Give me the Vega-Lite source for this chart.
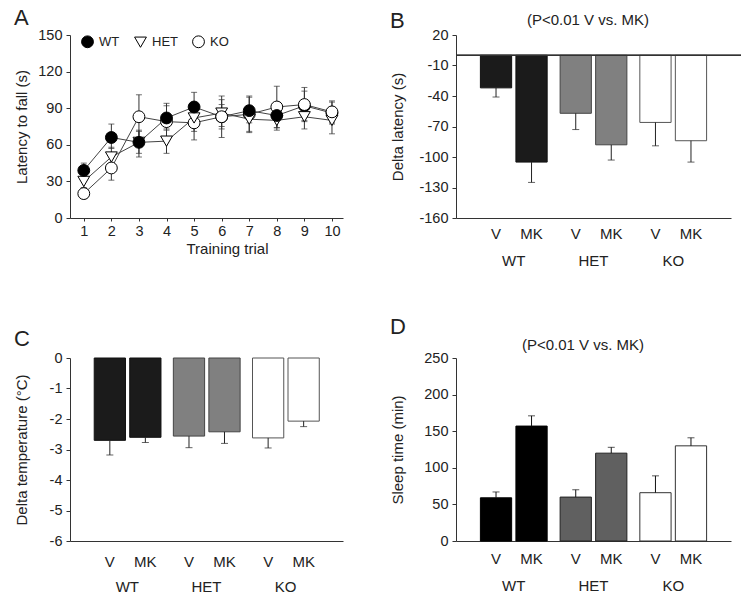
{
  "$schema": "https://vega.github.io/schema/vega-lite/v6.json",
  "background": "white",
  "padding": {"left": 13, "top": 7, "right": 5, "bottom": 5},
  "config": {
    "font": "Liberation Sans",
    "view": {"stroke": null},
    "title": {"font": "Liberation Sans", "fontSize": 22, "fontWeight": "normal", "color": "#222", "anchor": "start", "frame": "bounds", "baseline": "alphabetic"},
    "axis": {
      "labelFont": "Liberation Sans", "labelFontSize": 14.5, "labelColor": "#222",
      "titleFont": "Liberation Sans", "titleFontSize": 15, "titleFontWeight": "normal", "titleColor": "#222",
      "domainColor": "#333", "tickColor": "#333", "grid": false, "tickSize": 4, "labelPadding": 4, "labelOverlap": false
    },
    "legend": {"labelFont": "Liberation Sans"}
  },
  "datasets": {
    "latency": [
      {"trial": 1, "geno": "KO", "mean": 20, "lo": 16, "hi": 24},
      {"trial": 1, "geno": "HET", "mean": 30, "lo": 25, "hi": 35},
      {"trial": 1, "geno": "WT", "mean": 39, "lo": 34, "hi": 45},
      {"trial": 2, "geno": "KO", "mean": 41, "lo": 31, "hi": 51},
      {"trial": 2, "geno": "HET", "mean": 50, "lo": 42, "hi": 58},
      {"trial": 2, "geno": "WT", "mean": 66, "lo": 57, "hi": 77},
      {"trial": 3, "geno": "HET", "mean": 62, "lo": 53, "hi": 71},
      {"trial": 3, "geno": "KO", "mean": 83, "lo": 64, "hi": 101},
      {"trial": 3, "geno": "WT", "mean": 62, "lo": 50, "hi": 72},
      {"trial": 4, "geno": "HET", "mean": 63, "lo": 53, "hi": 73},
      {"trial": 4, "geno": "KO", "mean": 79, "lo": 66, "hi": 92},
      {"trial": 4, "geno": "WT", "mean": 82, "lo": 72, "hi": 94},
      {"trial": 5, "geno": "KO", "mean": 78, "lo": 64, "hi": 92},
      {"trial": 5, "geno": "HET", "mean": 82, "lo": 71, "hi": 93},
      {"trial": 5, "geno": "WT", "mean": 91, "lo": 80, "hi": 103},
      {"trial": 6, "geno": "WT", "mean": 83, "lo": 73, "hi": 93},
      {"trial": 6, "geno": "HET", "mean": 86, "lo": 75, "hi": 97},
      {"trial": 6, "geno": "KO", "mean": 83, "lo": 66, "hi": 100},
      {"trial": 7, "geno": "KO", "mean": 85, "lo": 71, "hi": 99},
      {"trial": 7, "geno": "HET", "mean": 81, "lo": 70, "hi": 92},
      {"trial": 7, "geno": "WT", "mean": 88, "lo": 78, "hi": 100},
      {"trial": 8, "geno": "HET", "mean": 80, "lo": 72, "hi": 88},
      {"trial": 8, "geno": "KO", "mean": 91, "lo": 74, "hi": 108},
      {"trial": 8, "geno": "WT", "mean": 84, "lo": 74, "hi": 94},
      {"trial": 9, "geno": "WT", "mean": 92, "lo": 80, "hi": 104},
      {"trial": 9, "geno": "HET", "mean": 83, "lo": 73, "hi": 93},
      {"trial": 9, "geno": "KO", "mean": 93, "lo": 79, "hi": 107},
      {"trial": 10, "geno": "WT", "mean": 86, "lo": 77, "hi": 95},
      {"trial": 10, "geno": "HET", "mean": 80, "lo": 69, "hi": 91},
      {"trial": 10, "geno": "KO", "mean": 87, "lo": 78, "hi": 96}
    ],
    "dlat": [
      {"geno": "WT", "trt": "V", "mean": -32, "err": -41},
      {"geno": "WT", "trt": "MK", "mean": -105, "err": -125},
      {"geno": "HET", "trt": "V", "mean": -57, "err": -73},
      {"geno": "HET", "trt": "MK", "mean": -88, "err": -103},
      {"geno": "KO", "trt": "V", "mean": -66, "err": -89},
      {"geno": "KO", "trt": "MK", "mean": -84, "err": -105}
    ],
    "dtemp": [
      {"geno": "WT", "trt": "V", "mean": -2.70, "err": -3.18},
      {"geno": "WT", "trt": "MK", "mean": -2.60, "err": -2.77},
      {"geno": "HET", "trt": "V", "mean": -2.56, "err": -2.94},
      {"geno": "HET", "trt": "MK", "mean": -2.42, "err": -2.80},
      {"geno": "KO", "trt": "V", "mean": -2.62, "err": -2.95},
      {"geno": "KO", "trt": "MK", "mean": -2.07, "err": -2.25}
    ],
    "sleep": [
      {"geno": "WT", "trt": "V", "mean": 59, "err": 67},
      {"geno": "WT", "trt": "MK", "mean": 157, "err": 171},
      {"geno": "HET", "trt": "V", "mean": 60, "err": 70},
      {"geno": "HET", "trt": "MK", "mean": 120, "err": 128},
      {"geno": "KO", "trt": "V", "mean": 66, "err": 89},
      {"geno": "KO", "trt": "MK", "mean": 130, "err": 141}
    ]
  },
  "columns": 2,
  "bounds": "flush",
  "spacing": {"row": 140, "column": 113},
  "concat": [
    {
      "width": 273, "height": 183,
      "title": {"text": "A", "offset": -3},
      "data": {"name": "latency"},
      "encoding": {
        "x": {"field": "trial", "type": "quantitative",
              "scale": {"domain": [0.5, 10.4], "nice": false, "zero": false},
              "axis": {"values": [1,2,3,4,5,6,7,8,9,10], "tickCount": 10, "format": "d", "title": "Training trial", "tickSize": 3, "labelPadding": 3, "titleX": 157}}
      },
      "layer": [
        {"mark": {"type": "errorbar", "ticks": {"size": 6, "color": "#333"}, "color": "#333", "thickness": 1},
         "encoding": {
           "y": {"field": "lo", "type": "quantitative", "title": "Latency to fall (s)",
                 "scale": {"domain": [0, 150], "nice": false},
                 "axis": {"values": [0,30,60,90,120,150], "tickCount": 6, "title": "Latency to fall (s)", "titleX": -41}},
           "y2": {"field": "hi"}}},
        {"mark": {"type": "line", "color": "#444", "strokeWidth": 1},
         "encoding": {"y": {"field": "mean", "type": "quantitative", "title": "Latency to fall (s)",
                            "axis": {"values": [0,30,60,90,120,150], "tickCount": 6, "title": "Latency to fall (s)", "titleX": -41}},
                      "detail": {"field": "geno"}}},
        {"mark": {"type": "point", "filled": true, "size": 140, "strokeWidth": 1, "opacity": 1},
         "encoding": {
           "y": {"field": "mean", "type": "quantitative", "title": "Latency to fall (s)",
                 "axis": {"values": [0,30,60,90,120,150], "tickCount": 6, "title": "Latency to fall (s)", "titleX": -41}},
           "shape": {"field": "geno", "type": "nominal",
                     "scale": {"domain": ["WT", "HET", "KO"], "range": ["circle", "triangle-down", "circle"]},
                     "legend": {"orient": "none", "legendX": 11, "legendY": 0, "direction": "horizontal", "title": null,
                                "labelFontSize": 13, "labelColor": "#222", "symbolSize": 140, "symbolStrokeWidth": 1,
                                "columnPadding": 12, "labelOffset": 5, "padding": 0}},
           "fill": {"field": "geno", "type": "nominal",
                    "scale": {"domain": ["WT", "HET", "KO"], "range": ["#000000", "#ffffff", "#ffffff"]},
                    "legend": {"orient": "none", "legendX": 11, "legendY": 0, "direction": "horizontal", "title": null,
                                "labelFontSize": 13, "labelColor": "#222", "symbolSize": 140, "symbolStrokeWidth": 1,
                                "columnPadding": 12, "labelOffset": 5, "padding": 0}},
           "stroke": {"field": "geno", "type": "nominal",
                    "scale": {"domain": ["WT", "HET", "KO"], "range": ["#000000", "#000000", "#000000"]},
                    "legend": {"orient": "none", "legendX": 11, "legendY": 0, "direction": "horizontal", "title": null,
                                "labelFontSize": 13, "labelColor": "#222", "symbolSize": 140, "symbolStrokeWidth": 1,
                                "columnPadding": 12, "labelOffset": 5, "padding": 0}}
         }}
      ]
    },
    {
      "width": 275, "height": 183,
      "title": {"text": "B", "offset": -21},
      "data": {"name": "dlat"},
      "encoding": {
        "xOffset": {"field": "trt", "type": "nominal", "sort": ["V", "MK"], "scale": {"paddingInner": 0.12, "paddingOuter": 0}}
      },
      "layer": [
        {"mark": {"type": "bar", "strokeWidth": 1},
         "encoding": {
           "x": {"field": "geno", "type": "nominal", "sort": ["WT", "HET", "KO"],
                 "scale": {"paddingInner": 0.1625, "paddingOuter": 0.306},
                 "axis": {"title": null, "ticks": false, "tickSize": 0, "labelPadding": 35, "labelAngle": 0, "labelFontSize": 15}},
           "y": {"field": "mean", "type": "quantitative", "title": "Delta latency (s)", "scale": {"domain": [-160, 20], "nice": false, "zero": false},
                 "axis": {"values": [-160,-130,-100,-70,-40,-10,20], "tickCount": 7, "title": "Delta latency (s)", "titleX": -51, "labelExpr": "toString(datum.value)"}},
           "fill": {"condition": [{"test": "datum.geno === 'WT'", "value": "#1b1b1b"}, {"test": "datum.geno === 'HET'", "value": "#808080"}], "value": "#ffffff"},
           "stroke": {"condition": [{"test": "datum.geno === 'WT'", "value": "#111111"}, {"test": "datum.geno === 'HET'", "value": "#444444"}], "value": "#555555"}
         }},
        {"mark": {"type": "rule", "color": "#222", "strokeWidth": 1},
         "encoding": {
           "x": {"field": "geno", "type": "nominal", "sort": ["WT", "HET", "KO"], "axis": null},
           "y": {"field": "mean", "type": "quantitative", "title": "Delta latency (s)",
                 "axis": {"values": [-160,-130,-100,-70,-40,-10,20], "tickCount": 7, "title": "Delta latency (s)", "titleX": -51, "labelExpr": "toString(datum.value)"}},
           "y2": {"field": "err"}}},
        {"mark": {"type": "tick", "color": "#222", "size": 7, "thickness": 1},
         "encoding": {
           "x": {"field": "geno", "type": "nominal", "sort": ["WT", "HET", "KO"], "axis": null},
           "y": {"field": "err", "type": "quantitative", "title": "Delta latency (s)",
                 "axis": {"values": [-160,-130,-100,-70,-40,-10,20], "tickCount": 7, "title": "Delta latency (s)", "titleX": -51, "labelExpr": "toString(datum.value)"}}}},
        {"mark": {"type": "rule", "color": "#333", "strokeWidth": 1},
         "encoding": {"y": {"datum": 0, "type": "quantitative", "title": "Delta latency (s)",
                            "axis": {"values": [-160,-130,-100,-70,-40,-10,20], "tickCount": 7, "title": "Delta latency (s)", "titleX": -51, "labelExpr": "toString(datum.value)"}}}},
        {"mark": {"type": "text", "dy": 16, "fontSize": 15, "baseline": "middle", "color": "#222"},
         "encoding": {
           "x": {"field": "geno", "type": "nominal", "sort": ["WT", "HET", "KO"],
                 "axis": {"orient": "top", "title": "(P<0.01 V vs. MK)", "labels": false, "ticks": false, "domain": false,
                          "titleX": 131.5, "titleY": -11, "titleBaseline": "alphabetic", "titleFontSize": 15}},
           "y": {"datum": -160, "type": "quantitative", "title": "Delta latency (s)",
                 "axis": {"values": [-160,-130,-100,-70,-40,-10,20], "tickCount": 7, "title": "Delta latency (s)", "titleX": -51, "labelExpr": "toString(datum.value)"}},
           "text": {"field": "trt"}
         }}
      ],
      "resolve": {"axis": {"x": "independent"}}
    },
    {
      "width": 273, "height": 183,
      "title": {"text": "C", "offset": -1},
      "data": {"name": "dtemp"},
      "encoding": {
        "x": {"field": "geno", "type": "nominal", "sort": ["WT", "HET", "KO"],
              "scale": {"paddingInner": 0.1625, "paddingOuter": 0.306},
              "axis": {"title": null, "ticks": false, "tickSize": 0, "labelPadding": 38, "labelAngle": 0, "labelFontSize": 15}},
        "xOffset": {"field": "trt", "type": "nominal", "sort": ["V", "MK"], "scale": {"paddingInner": 0.12, "paddingOuter": 0}}
      },
      "layer": [
        {"mark": {"type": "bar", "strokeWidth": 1},
         "encoding": {
           "y": {"field": "mean", "type": "quantitative", "title": "Delta temperature (°C)", "scale": {"domain": [-6, 0], "nice": false, "zero": false},
                 "axis": {"values": [-6,-5,-4,-3,-2,-1,0], "tickCount": 7, "title": "Delta temperature (°C)", "titleX": -41, "labelExpr": "toString(datum.value)"}},
           "fill": {"condition": [{"test": "datum.geno === 'WT'", "value": "#1b1b1b"}, {"test": "datum.geno === 'HET'", "value": "#808080"}], "value": "#ffffff"},
           "stroke": {"condition": [{"test": "datum.geno === 'WT'", "value": "#111111"}, {"test": "datum.geno === 'HET'", "value": "#444444"}], "value": "#555555"}
         }},
        {"mark": {"type": "rule", "color": "#222", "strokeWidth": 1},
         "encoding": {"y": {"field": "mean", "type": "quantitative", "title": "Delta temperature (°C)",
                            "axis": {"values": [-6,-5,-4,-3,-2,-1,0], "tickCount": 7, "title": "Delta temperature (°C)", "titleX": -41, "labelExpr": "toString(datum.value)"}},
                      "y2": {"field": "err"}}},
        {"mark": {"type": "tick", "color": "#222", "size": 7, "thickness": 1},
         "encoding": {"y": {"field": "err", "type": "quantitative", "title": "Delta temperature (°C)",
                            "axis": {"values": [-6,-5,-4,-3,-2,-1,0], "tickCount": 7, "title": "Delta temperature (°C)", "titleX": -41, "labelExpr": "toString(datum.value)"}}}},
        {"mark": {"type": "rule", "color": "#333", "strokeWidth": 1},
         "encoding": {"y": {"datum": 0, "type": "quantitative", "title": "Delta temperature (°C)",
                            "axis": {"values": [-6,-5,-4,-3,-2,-1,0], "tickCount": 7, "title": "Delta temperature (°C)", "titleX": -41, "labelExpr": "toString(datum.value)"}}}},
        {"mark": {"type": "text", "dy": 21, "fontSize": 15, "baseline": "middle", "color": "#222"},
         "encoding": {"y": {"datum": -6, "type": "quantitative", "title": "Delta temperature (°C)",
                            "axis": {"values": [-6,-5,-4,-3,-2,-1,0], "tickCount": 7, "title": "Delta temperature (°C)", "titleX": -41, "labelExpr": "toString(datum.value)"}},
                      "text": {"field": "trt"}}}
      ]
    },
    {
      "width": 275, "height": 183,
      "title": {"text": "D", "offset": -2},
      "data": {"name": "sleep"},
      "encoding": {
        "xOffset": {"field": "trt", "type": "nominal", "sort": ["V", "MK"], "scale": {"paddingInner": 0.12, "paddingOuter": 0}}
      },
      "layer": [
        {"mark": {"type": "bar", "strokeWidth": 1},
         "encoding": {
           "x": {"field": "geno", "type": "nominal", "sort": ["WT", "HET", "KO"],
                 "scale": {"paddingInner": 0.1625, "paddingOuter": 0.306},
                 "axis": {"title": null, "ticks": false, "tickSize": 0, "labelPadding": 37, "labelAngle": 0, "labelFontSize": 15}},
           "y": {"field": "mean", "type": "quantitative", "title": "Sleep time (min)", "scale": {"domain": [0, 250], "nice": false},
                 "axis": {"values": [0,50,100,150,200,250], "tickCount": 6, "title": "Sleep time (min)", "titleX": -51}},
           "fill": {"condition": [{"test": "datum.geno === 'WT'", "value": "#000000"}, {"test": "datum.geno === 'HET'", "value": "#606060"}], "value": "#ffffff"},
           "stroke": {"condition": [{"test": "datum.geno === 'WT'", "value": "#000000"}, {"test": "datum.geno === 'HET'", "value": "#222222"}], "value": "#333333"}
         }},
        {"mark": {"type": "rule", "color": "#111", "strokeWidth": 1},
         "encoding": {
           "x": {"field": "geno", "type": "nominal", "sort": ["WT", "HET", "KO"], "axis": null},
           "y": {"field": "mean", "type": "quantitative", "title": "Sleep time (min)",
                 "axis": {"values": [0,50,100,150,200,250], "tickCount": 6, "title": "Sleep time (min)", "titleX": -51}},
           "y2": {"field": "err"}}},
        {"mark": {"type": "tick", "color": "#111", "size": 7, "thickness": 1},
         "encoding": {
           "x": {"field": "geno", "type": "nominal", "sort": ["WT", "HET", "KO"], "axis": null},
           "y": {"field": "err", "type": "quantitative", "title": "Sleep time (min)",
                 "axis": {"values": [0,50,100,150,200,250], "tickCount": 6, "title": "Sleep time (min)", "titleX": -51}}}},
        {"mark": {"type": "text", "dy": 18, "fontSize": 15, "baseline": "middle", "color": "#222"},
         "encoding": {
           "x": {"field": "geno", "type": "nominal", "sort": ["WT", "HET", "KO"],
                 "axis": {"orient": "top", "title": "(P<0.01 V vs. MK)", "labels": false, "ticks": false, "domain": false,
                          "titleX": 126.5, "titleY": -9, "titleBaseline": "alphabetic", "titleFontSize": 15}},
           "y": {"datum": 0, "type": "quantitative", "title": "Sleep time (min)",
                 "axis": {"values": [0,50,100,150,200,250], "tickCount": 6, "title": "Sleep time (min)", "titleX": -51}},
           "text": {"field": "trt"}
         }}
      ],
      "resolve": {"axis": {"x": "independent"}}
    }
  ]
}
